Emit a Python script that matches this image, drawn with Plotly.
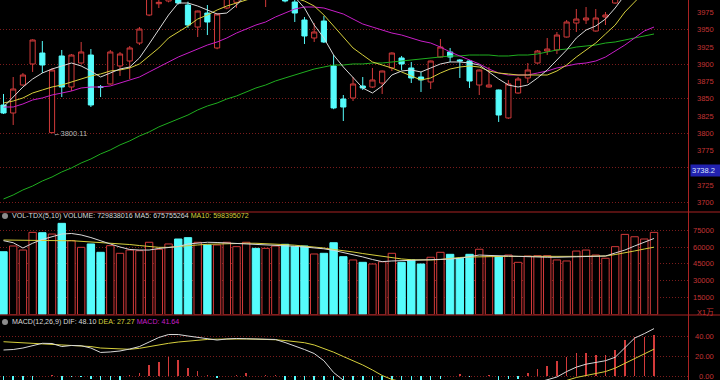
import plotly.graph_objects as go

# ---------------- data ----------------
idx = list(range(68))

opens = [3841.1, 3829.5, 3870.1, 3900.6, 3916.5, 3801.0, 3912.2, 3867.2, 3902.0, 3913.6,
         3867.8, 3871.6, 3897.7, 3904.9, 3931.0, 3971.6, 3988.0, 3992.0, 4000.0, 3986.1,
         3954.2, 3974.5, 3923.8, 3981.8, 3990.0, 4005.0, 4022.0, 4000.0, 4012.0, 4015.0,
         3990.5, 3964.4, 3938.3, 3962.9, 3897.7, 3849.8, 3851.3, 3868.7, 3867.2, 3873.0,
         3894.8, 3909.3, 3894.8, 3881.7, 3874.5, 3910.7, 3918.0, 3906.4, 3904.9, 3870.1,
         3867.2, 3862.9, 3822.3, 3858.5, 3880.3, 3902.0, 3919.4, 3920.9, 3939.7, 3960.0,
         3964.4, 3948.4, 3968.7, 3989.0, 4000.0, 4015.0, 4028.0, 4040.0]
highs = [3857.1, 3881.7, 3887.5, 3936.5, 3933.9, 3894.8, 3920.9, 3915.1, 3932.5, 3922.3,
         3870.1, 3920.9, 3918.0, 3926.7, 3954.2, 4004.0, 3995.0, 4015.0, 4005.0, 3991.0,
         3978.0, 3986.1, 3974.0, 4005.0, 4018.0, 4026.0, 4028.0, 4022.0, 4030.0, 4022.0,
         3995.0, 3968.7, 3960.0, 3970.2, 3913.6, 3855.6, 3881.7, 3881.7, 3894.8, 3891.0,
         3917.5, 3912.2, 3903.5, 3889.0, 3905.5, 3936.8, 3923.8, 3907.8, 3906.4, 3892.5,
         3896.2, 3863.5, 3877.4, 3881.7, 3902.0, 3920.9, 3938.3, 3947.0, 3964.4, 3980.3,
         3983.2, 3980.3, 3976.0, 4008.0, 4025.0, 4036.0, 4048.0, 4062.0]
lows = [3828.0, 3812.1, 3869.0, 3889.0, 3887.5, 3800.11, 3852.7, 3861.4, 3901.0, 3838.2,
        3852.7, 3870.5, 3883.2, 3878.8, 3928.1, 3970.0, 3981.8, 3990.0, 3987.0, 3953.0,
        3939.7, 3942.6, 3922.0, 3980.0, 3982.0, 3998.0, 4002.0, 3983.2, 4005.0, 3990.0,
        3961.5, 3929.6, 3932.5, 3931.0, 3835.0, 3817.9, 3846.9, 3862.9, 3865.8, 3857.1,
        3890.4, 3891.9, 3873.0, 3860.0, 3864.3, 3910.0, 3903.5, 3880.3, 3865.8, 3855.6,
        3866.5, 3816.5, 3821.0, 3857.5, 3873.0, 3901.0, 3913.6, 3915.1, 3939.0, 3947.0,
        3958.6, 3947.5, 3957.1, 3988.0, 3995.0, 4010.0, 4022.0, 4035.0]
closes = [3829.5, 3864.3, 3884.6, 3935.4, 3899.1, 3891.9, 3867.2, 3913.6, 3918.0, 3841.1,
          3866.8, 3918.0, 3915.1, 3923.8, 3951.3, 4000.0, 3990.0, 4010.0, 3989.0, 3957.1,
          3977.4, 3961.5, 3973.1, 4000.0, 4012.0, 4020.0, 4008.0, 4015.0, 4020.0, 3992.0,
          3974.5, 3941.2, 3947.0, 3932.5, 3836.8, 3838.2, 3871.6, 3865.8, 3877.4, 3890.4,
          3916.5, 3900.6, 3880.3, 3877.4, 3904.9, 3925.2, 3910.7, 3905.0, 3875.9, 3891.9,
          3870.1, 3826.6, 3871.6, 3878.8, 3891.9, 3919.4, 3922.3, 3942.6, 3961.5, 3965.8,
          3967.3, 3967.3, 3971.6, 4000.0, 4018.0, 4030.0, 4040.0, 4058.0]

ma5 = [3838.2, 3852.7, 3867.2, 3878.8, 3887.5, 3893.3, 3897.7, 3902.0, 3897.7, 3890.4,
       3881.7, 3887.5, 3893.3, 3896.2, 3909.3, 3929.6, 3949.9, 3971.6, 3989.0, 3989.0,
       3984.7, 3978.9, 3973.1, 3974.5, 3986.1, 4000.7, 4007.9, 4007.9, 4005.0, 4000.7,
       3997.8, 3981.8, 3957.1, 3938.3, 3913.6, 3896.2, 3880.3, 3865.8, 3858.5, 3868.7,
       3884.6, 3890.4, 3891.9, 3889.0, 3894.8, 3900.6, 3903.5, 3903.5, 3902.0, 3899.1,
       3889.0, 3878.8, 3870.1, 3867.2, 3870.1, 3880.3, 3891.9, 3906.4, 3920.9, 3938.3,
       3949.9, 3955.7, 3965.8, 3981.8, 4000.7, 4015.2, 4029.7, 4044.2]
ma10 = [3844.0, 3846.9, 3851.3, 3858.5, 3862.9, 3867.2, 3870.1, 3874.5, 3878.8, 3883.2,
        3886.1, 3890.4, 3891.9, 3894.8, 3900.6, 3912.2, 3923.8, 3938.3, 3947.0, 3955.7,
        3965.8, 3971.6, 3978.9, 3984.7, 3989.0, 3993.4, 3997.8, 4000.7, 4000.7, 3997.8,
        3996.3, 3991.9, 3984.7, 3971.6, 3955.7, 3938.3, 3923.8, 3913.6, 3903.5, 3899.1,
        3894.8, 3889.0, 3883.2, 3877.4, 3880.3, 3887.5, 3893.3, 3896.2, 3897.7, 3896.2,
        3890.4, 3887.5, 3886.1, 3884.6, 3884.6, 3884.6, 3884.6, 3890.4, 3899.1, 3910.7,
        3920.9, 3931.0, 3944.1, 3957.1, 3976.0, 3990.5, 4005.0, 4019.5]
ma20 = [3838.2, 3838.2, 3842.6, 3848.4, 3851.3, 3855.6, 3858.5, 3861.4, 3865.8, 3867.2,
        3867.2, 3868.7, 3873.0, 3877.4, 3881.7, 3889.0, 3896.2, 3903.5, 3910.7, 3916.5,
        3922.3, 3928.1, 3932.5, 3938.3, 3945.5, 3951.3, 3957.1, 3961.5, 3968.7, 3974.5,
        3980.3, 3983.2, 3983.2, 3981.8, 3977.4, 3973.1, 3965.8, 3958.6, 3954.2, 3949.9,
        3945.5, 3942.6, 3938.3, 3933.9, 3931.0, 3925.2, 3918.0, 3912.2, 3906.4, 3900.6,
        3893.3, 3887.5, 3884.6, 3884.6, 3884.6, 3887.5, 3890.4, 3894.8, 3897.7, 3900.6,
        3902.0, 3904.9, 3910.7, 3919.4, 3928.1, 3938.3, 3948.4, 3954.2]
ma60 = [3704.8, 3710.6, 3717.9, 3723.6, 3730.9, 3736.7, 3744.0, 3749.8, 3757.0, 3762.8,
        3770.1, 3775.9, 3783.2, 3789.0, 3796.2, 3802.0, 3809.3, 3815.1, 3820.8, 3826.6,
        3833.9, 3839.7, 3844.0, 3849.8, 3854.2, 3860.0, 3865.8, 3870.1, 3875.9, 3880.3,
        3884.6, 3889.0, 3893.3, 3896.2, 3899.1, 3899.1, 3900.6, 3900.6, 3902.0, 3902.0,
        3903.5, 3904.9, 3906.4, 3907.8, 3909.3, 3910.7, 3912.2, 3912.2, 3913.6, 3913.6,
        3913.6, 3912.2, 3912.2, 3913.6, 3913.6, 3915.1, 3918.0, 3920.9, 3922.3, 3925.2,
        3926.7, 3928.1, 3931.0, 3932.5, 3935.4, 3938.3, 3941.2, 3944.1]

# volume in units of 10,000 shares (axis shows "X1万")
volume = [55800, 60900, 57300, 73000, 72700, 71500, 81000, 65600, 59700, 62700,
          55300, 61200, 54400, 57300, 56700, 64200, 58000, 62700, 67100, 68300,
          64200, 61800, 61800, 64200, 60300, 64200, 58800, 58800, 60900, 62400,
          60300, 60900, 53800, 54400, 63800, 51400, 48500, 46400, 44900, 46900,
          54400, 46400, 48500, 44900, 50900, 55300, 53500, 50000, 53500, 58000,
          52000, 51400, 52900, 46400, 52000, 52300, 52300, 48500, 47600, 56400,
          57300, 52900, 50000, 60300, 71200, 69100, 67100, 72984]
vol_ma5 = [65600, 63800, 59100, 63300, 66700, 68900, 71500, 72000, 70700, 68400,
           65300, 62700, 60000, 57800, 57300, 57300, 58700, 59600, 60400, 62700,
           63600, 64200, 64000, 63600, 63300, 63100, 62700, 62400, 61800, 61500,
           60600, 60000, 59300, 58400, 57000, 55200, 53500, 51200, 48900, 47000,
           47600, 47900, 48200, 48500, 48500, 48500, 49300, 50000, 51600, 52900,
           52500, 52000, 52000, 51700, 51300, 50900, 50900, 50900, 51100, 51400,
           51600, 51700, 52000, 54700, 57300, 60900, 64400, 67576]
vol_ma10 = [66200, 66000, 65900, 65600, 65600, 65600, 65600, 65600, 65100, 64600,
            64200, 63600, 63100, 62200, 61300, 60400, 59700, 59700, 60200, 60900,
            61800, 62400, 62700, 63100, 63300, 63300, 63300, 63100, 62700, 62100,
            61600, 60900, 60000, 59100, 57800, 56900, 55600, 54200, 52900, 51600,
            50200, 49400, 48700, 48500, 48500, 48900, 50000, 50700, 51100, 51400,
            51600, 51700, 51700, 51700, 51600, 51500, 51400, 51500, 51600, 51700,
            51800, 52000, 52000, 53300, 54700, 56500, 58200, 59840]

dif = [26.4, 26.9, 28.4, 31.0, 33.2, 33.0, 29.9, 31.0, 30.7, 28.4,
       23.9, 24.4, 25.4, 27.4, 29.9, 34.5, 39.1, 42.1, 42.1, 40.6,
       39.1, 37.6, 36.5, 37.6, 38.1, 37.8, 37.4, 37.3, 37.1, 34.0,
       30.8, 26.9, 22.8, 15.5, 3.5, -5.0, -12.0, -17.0, -20.0, -21.0,
       -21.0, -20.5, -20.0, -19.5, -16.0, -13.0, -12.0, -10.5, -12.0, -11.5,
       -11.0, -14.5, -14.0, -12.5, -9.5, -6.5, -4.0, -1.0, 4.5, 9.0,
       12.0, 14.0, 15.5, 19.0, 28.7, 38.5, 43.0, 48.10]
dea = [34.8, 34.3, 33.8, 33.3, 33.0, 32.5, 32.0, 31.5, 31.0, 29.9,
       28.4, 27.8, 27.4, 27.1, 28.1, 29.9, 31.5, 33.2, 34.5, 35.5,
       36.5, 37.1, 37.4, 37.6, 37.6, 37.6, 37.4, 37.2, 36.8, 36.0,
       35.0, 33.8, 31.5, 28.0, 24.2, 19.8, 15.7, 11.2, 6.1, 0.5,
       -3.5, -6.0, -8.5, -10.0, -11.0, -11.5, -11.8, -11.7, -11.7, -11.6,
       -11.4, -12.0, -12.3, -12.3, -11.8, -10.8, -9.5, -7.5, -4.5, -1.5,
       0.5, 2.5, 4.5, 8.0, 13.0, 18.0, 22.5, 27.27]
macd_hist = [-16.8, -14.8, -10.8, -4.6, 0.4, 1.0, -4.2, -1.0, -0.6, -3.0,
             -9.0, -6.8, -4.0, 0.6, 3.3, 11.2, 14.6, 19.1, 16.2, 7.9,
             5.4, 1.0, -1.8, 0.0, 1.0, 3.0, 0.5, 1.0, 0.6, -4.0,
             -8.4, -13.2, -18.4, -23.2, -41.0, -49.0, -55.0, -56.0, -52.0, -43.0,
             -35.0, -29.0, -23.0, -19.0, -10.0, -3.0, -0.4, 2.4, -0.6, -0.2,
             0.8, -5.0, -3.5, -3.0, 3.0, 7.0, 10.0, 15.5, 19.6, 23.0,
             23.0, 21.3, 21.3, 26.4, 36.5, 39.3, 39.3, 41.64]

price_ticks = [3700, 3725, 3750, 3775, 3800, 3825, 3850, 3875, 3900, 3925, 3950, 3975]
price_grid = [3700, 3750, 3800, 3850, 3900, 3950]
vol_ticks = [15000, 30000, 45000, 60000, 75000]
macd_ticks = [0, 20, 40]
current_marker = 3738.2
vol_header = {"VOLUME": 729838016, "MA5": 675755264, "MA10": 598395072}
macd_header = {"DIF": 48.10, "DEA": 27.27, "MACD": 41.64}

# ---------------- style ----------------
RED = "#d23a3a"
CYAN = "#55fcfc"
AXIS_RED = "#c23434"
LINE_RED = "#a82222"
GRID = "#7a1c1c"
WHITE = "#d8d8d8"
YELLOW = "#d6cf3c"
MAGENTA = "#c81ec8"
GREEN = "#1fae1f"
FONT = "Liberation Sans, Arial, Noto Sans CJK SC, sans-serif"

W, H = 720, 380
PLOT_W = 688


def py(p):
    return 1 - p / H


def px(p):
    return p / PLOT_W


up = [c >= o for o, c in zip(opens, closes)]

fig = go.Figure()

fig.add_trace(go.Candlestick(
    x=idx, open=opens, high=highs, low=lows, close=closes,
    increasing=dict(line=dict(color=RED, width=1), fillcolor="#000000"),
    decreasing=dict(line=dict(color=CYAN, width=1), fillcolor=CYAN),
    whiskerwidth=0, xaxis="x", yaxis="y", hoverinfo="skip", showlegend=False))

for series, col in [(ma60, GREEN), (ma20, MAGENTA), (ma10, YELLOW), (ma5, WHITE)]:
    fig.add_trace(go.Scatter(x=idx, y=series, mode="lines", line=dict(color=col, width=1),
                             xaxis="x", yaxis="y", hoverinfo="skip", showlegend=False))

fig.add_trace(go.Bar(
    x=idx, y=volume, width=0.76, xaxis="x2", yaxis="y2",
    marker=dict(color=["#000000" if u else CYAN for u in up],
                line=dict(color=[RED if u else CYAN for u in up], width=1)),
    hoverinfo="skip", showlegend=False))
for series, col in [(vol_ma10, YELLOW), (vol_ma5, WHITE)]:
    fig.add_trace(go.Scatter(x=idx, y=series, mode="lines", line=dict(color=col, width=1),
                             xaxis="x2", yaxis="y2", hoverinfo="skip", showlegend=False))

fig.add_trace(go.Bar(
    x=idx, y=macd_hist, width=0.16, xaxis="x3", yaxis="y3",
    marker=dict(color=[RED if v >= 0 else CYAN for v in macd_hist], line=dict(width=0)),
    hoverinfo="skip", showlegend=False))
for series, col in [(dea, YELLOW), (dif, WHITE)]:
    fig.add_trace(go.Scatter(x=idx, y=series, mode="lines", line=dict(color=col, width=1),
                             xaxis="x3", yaxis="y3", hoverinfo="skip", showlegend=False))

xcommon = dict(range=[-0.36, 70.5], showgrid=False, zeroline=False, showticklabels=False,
               showline=False, ticks="", fixedrange=True)
ycommon = dict(side="right", showticklabels=False, showgrid=True, gridcolor=GRID,
               griddash="1px,2px", gridwidth=1, zeroline=False, showline=False, ticks="",
               fixedrange=True)

annotations = []
for v in price_ticks:
    annotations.append(dict(x=px(716), xref="paper", y=v, yref="y", text=str(v),
                            xanchor="right", yanchor="middle", showarrow=False,
                            font=dict(family=FONT, size=7.5, color=AXIS_RED)))
for v in vol_ticks:
    annotations.append(dict(x=px(716), xref="paper", y=v, yref="y2", text=str(v),
                            xanchor="right", yanchor="middle", showarrow=False,
                            font=dict(family=FONT, size=7.5, color=AXIS_RED)))
annotations.append(dict(x=px(716), xref="paper", y=py(312), yref="paper", text="X1万",
                        xanchor="right", yanchor="middle", showarrow=False,
                        font=dict(family=FONT, size=7.5, color=AXIS_RED)))
for v in macd_ticks:
    annotations.append(dict(x=px(716), xref="paper", y=v, yref="y3", text=f"{v:.2f}",
                            xanchor="right", yanchor="middle", showarrow=False,
                            font=dict(family=FONT, size=7.5, color=AXIS_RED)))

# current-value marker box on the price axis
annotations.append(dict(x=px(689.5), xref="paper", y=py(171), yref="paper",
                        text=f"{current_marker:.1f}", xanchor="left", yanchor="middle",
                        showarrow=False, bgcolor="#2222b0", borderpad=1, width=27,
                        align="left", font=dict(family=FONT, size=7.5, color="#d8e4ff")))

# lowest price marker
low_i = min(idx, key=lambda i: lows[i])
annotations.append(dict(x=low_i, xref="x", y=lows[low_i], yref="y",
                        text=f"←{lows[low_i]:.2f}", xanchor="left", yanchor="middle",
                        xshift=-1, showarrow=False,
                        font=dict(family=FONT, size=7.5, color="#b8b8b8")))

# panel headers
vol_text = (f"<span style='color:{WHITE}'>VOL-TDX(5,10) VOLUME: {vol_header['VOLUME']} "
            f"MA5: {vol_header['MA5']}</span> "
            f"<span style='color:{YELLOW}'>MA10: {vol_header['MA10']}</span>")
annotations.append(dict(x=px(10), xref="paper", y=py(216), yref="paper", text=vol_text,
                        xanchor="left", yanchor="middle", showarrow=False,
                        font=dict(family=FONT, size=7.1, color=WHITE)))
macd_text = (f"<span style='color:{WHITE}'>MACD(12,26,9) DIF: {macd_header['DIF']:.2f}</span> "
             f"<span style='color:{YELLOW}'>DEA: {macd_header['DEA']:.2f}</span> "
             f"<span style='color:{MAGENTA}'>MACD: {macd_header['MACD']:.2f}</span>")
annotations.append(dict(x=px(10), xref="paper", y=py(322), yref="paper", text=macd_text,
                        xanchor="left", yanchor="middle", showarrow=False,
                        font=dict(family=FONT, size=7.1, color=WHITE)))

shapes = [
    dict(type="line", xref="paper", yref="paper", x0=px(688.5), x1=px(688.5), y0=0, y1=1,
         line=dict(color=LINE_RED, width=1)),
    dict(type="line", xref="paper", yref="paper", x0=0, x1=px(720), y0=py(212), y1=py(212),
         line=dict(color=LINE_RED, width=1)),
    dict(type="line", xref="paper", yref="paper", x0=0, x1=px(720), y0=py(315), y1=py(315),
         line=dict(color=LINE_RED, width=1)),
]
for cy in (216, 322):
    shapes.append(dict(type="circle", xref="paper", yref="paper",
                       x0=px(2), x1=px(8), y0=py(cy + 3), y1=py(cy - 3),
                       fillcolor="#8c8c8c", line=dict(width=0)))

fig.update_layout(
    width=W, height=H,
    margin=dict(l=0, r=W - PLOT_W, t=0, b=0, pad=0),
    paper_bgcolor="#000000", plot_bgcolor="#000000",
    showlegend=False, boxgap=0.24, bargap=0,
    xaxis=dict(domain=[0, 1], anchor="y", rangeslider=dict(visible=False), **xcommon),
    xaxis2=dict(domain=[0, 1], anchor="y2", matches="x", **xcommon),
    xaxis3=dict(domain=[0, 1], anchor="y3", matches="x", **xcommon),
    yaxis=dict(domain=[py(212), 1], range=[3685.9, 3993.4], tickvals=price_grid,
               anchor="x", **ycommon),
    yaxis2=dict(domain=[py(314.6), py(222)], range=[0, 82190], tickvals=vol_ticks,
                anchor="x2", **ycommon),
    yaxis3=dict(domain=[0, py(316)], range=[-4.06, 60.91], tickvals=macd_ticks,
                anchor="x3", **ycommon),
    annotations=annotations,
    shapes=shapes,
)

fig.write_html("out.html", config={"displayModeBar": False, "staticPlot": True},
               post_script="document.body.style.margin='0';document.body.style.overflow='hidden';")
